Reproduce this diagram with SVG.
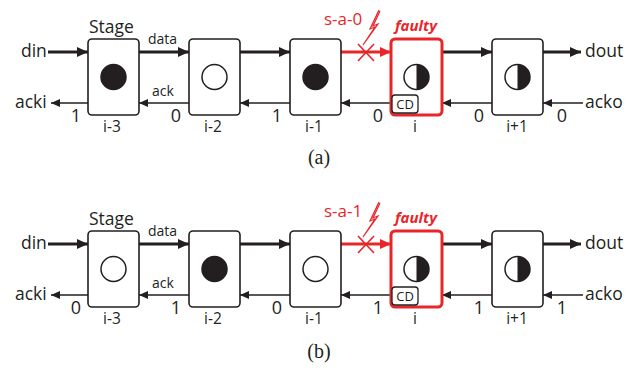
<svg xmlns="http://www.w3.org/2000/svg" width="638" height="368" viewBox="0 0 638 368">
<style>
.box{fill:#fff;stroke:#231f20;stroke-width:1.6}
.fbox{fill:#fff;stroke:#e8262a;stroke-width:3}
.t{font-family:"Open Sans","Liberation Sans",sans-serif;fill:#231f20}
.lbl{font-size:17.5px}
.sm{font-size:14px}
.num{font-size:18px;text-anchor:middle}
.idx{font-size:15.5px;text-anchor:middle}
.red{fill:#e8262a}
.data{stroke:#231f20;stroke-width:3;fill:none}
.ack{stroke:#231f20;stroke-width:1.4;fill:none}
.rdata{stroke:#e8262a;stroke-width:3;fill:none}
.full{fill:#231f20;stroke:#231f20;stroke-width:1.5}
.empty{fill:#fff;stroke:#231f20;stroke-width:1.5}
.cap{font-family:"Liberation Serif","Times New Roman",serif;font-size:20px;fill:#231f20;text-anchor:middle}
</style>
<defs>
<marker id="ah" markerUnits="userSpaceOnUse" markerWidth="12" markerHeight="12" refX="11" refY="6" orient="auto"><path d="M0,1 L11,6 L0,11 Z" fill="#231f20"/></marker>
<marker id="ahs" markerUnits="userSpaceOnUse" markerWidth="10" markerHeight="10" refX="9" refY="5" orient="auto"><path d="M0,1 L9,5 L0,9 Z" fill="#231f20"/></marker>
<marker id="ahr" markerUnits="userSpaceOnUse" markerWidth="12" markerHeight="12" refX="11" refY="6" orient="auto"><path d="M0,1 L11,6 L0,11 Z" fill="#e8262a"/></marker>
<g id="half"><path d="M0,-12.5 A12.5,12.5 0 0 1 0,12.5 Z" fill="#231f20"/><circle r="12.5" fill="none" stroke="#231f20" stroke-width="1.5"/></g>
</defs>

<!-- Panel (a) -->
<g id="panel-a">
<g id="connectors-a">
<line class="data" x1="48" y1="52" x2="88" y2="52" marker-end="url(#ah)"/>
<line class="data" x1="139" y1="52" x2="189" y2="52" marker-end="url(#ah)"/>
<line class="data" x1="240" y1="52" x2="290" y2="52" marker-end="url(#ah)"/>
<line class="rdata" x1="341" y1="52" x2="391" y2="52" marker-end="url(#ahr)"/>
<line class="data" x1="442" y1="52" x2="492" y2="52" marker-end="url(#ah)"/>
<line class="data" x1="543" y1="52" x2="581" y2="52" marker-end="url(#ah)"/>
<line class="ack" x1="88" y1="103" x2="51" y2="103" marker-end="url(#ahs)"/>
<line class="ack" x1="189" y1="103" x2="139" y2="103" marker-end="url(#ahs)"/>
<line class="ack" x1="290" y1="103" x2="240" y2="103" marker-end="url(#ahs)"/>
<line class="ack" x1="391" y1="103" x2="341" y2="103" marker-end="url(#ahs)"/>
<line class="ack" x1="492" y1="103" x2="442" y2="103" marker-end="url(#ahs)"/>
<line class="ack" x1="583" y1="103" x2="543" y2="103" marker-end="url(#ahs)"/>
<path d="M358,44 L374,61 M358,61 L374,44" stroke="#e8262a" stroke-width="1.6" fill="none"/>
<path d="M379,10 L370,29 L375,27 L363,45 L378,24 L373,26 L380,11" fill="#fff" stroke="#e8262a" stroke-width="1.2"/>
</g>
<text class="t lbl" x="21" y="57">din</text>
<text class="t lbl" x="15" y="108">acki</text>
<text class="t lbl" x="585" y="57">dout</text>
<text class="t lbl" x="585" y="108">acko</text>
<text class="t lbl" x="89" y="33" font-size="18">Stage</text>
<text class="t sm" x="148" y="44">data</text>
<text class="t sm" x="152" y="96">ack</text>
<text class="t red" x="324" y="25" font-size="17">s-a-0</text>
<text class="t red" x="395" y="31" font-size="15" font-weight="bold" font-style="italic">faulty</text>
<g id="a-s1"><rect class="box" x="88" y="39" width="51" height="76" rx="4"/><circle class="full" cx="113.5" cy="77" r="12.5"/><text class="t idx" x="112" y="132">i-3</text></g>
<g id="a-s2"><rect class="box" x="189" y="39" width="51" height="76" rx="4"/><circle class="empty" cx="214.5" cy="77" r="12.5"/><text class="t idx" x="213" y="132">i-2</text></g>
<g id="a-s3"><rect class="box" x="290" y="39" width="51" height="76" rx="4"/><circle class="full" cx="315.5" cy="77" r="12.5"/><text class="t idx" x="314" y="132">i-1</text></g>
<g id="a-s4"><rect class="fbox" x="391" y="39" width="51" height="76" rx="4"/><use href="#half" x="416.5" y="77"/><rect x="392" y="95" width="26" height="18" rx="3" fill="#fff" stroke="#231f20" stroke-width="1.3"/><text class="t" x="405" y="109" font-size="13" text-anchor="middle">CD</text><text class="t idx" x="415" y="132">i</text></g>
<g id="a-s5"><rect class="box" x="492" y="39" width="51" height="76" rx="4"/><use href="#half" x="517.5" y="77"/><text class="t idx" x="517" y="132">i+1</text></g>
<text class="t num" x="76" y="122">1</text>
<text class="t num" x="176" y="122">0</text>
<text class="t num" x="277" y="122">1</text>
<text class="t num" x="378" y="122">0</text>
<text class="t num" x="479" y="122">0</text>
<text class="t num" x="562" y="122">0</text>
<text class="cap" x="319" y="164">(a)</text>
</g>

<!-- Panel (b) -->
<g id="panel-b" transform="translate(0,192)">
<g id="connectors-b">
<line class="data" x1="48" y1="52" x2="88" y2="52" marker-end="url(#ah)"/>
<line class="data" x1="139" y1="52" x2="189" y2="52" marker-end="url(#ah)"/>
<line class="data" x1="240" y1="52" x2="290" y2="52" marker-end="url(#ah)"/>
<line class="rdata" x1="341" y1="52" x2="391" y2="52" marker-end="url(#ahr)"/>
<line class="data" x1="442" y1="52" x2="492" y2="52" marker-end="url(#ah)"/>
<line class="data" x1="543" y1="52" x2="581" y2="52" marker-end="url(#ah)"/>
<line class="ack" x1="88" y1="103" x2="51" y2="103" marker-end="url(#ahs)"/>
<line class="ack" x1="189" y1="103" x2="139" y2="103" marker-end="url(#ahs)"/>
<line class="ack" x1="290" y1="103" x2="240" y2="103" marker-end="url(#ahs)"/>
<line class="ack" x1="391" y1="103" x2="341" y2="103" marker-end="url(#ahs)"/>
<line class="ack" x1="492" y1="103" x2="442" y2="103" marker-end="url(#ahs)"/>
<line class="ack" x1="583" y1="103" x2="543" y2="103" marker-end="url(#ahs)"/>
<path d="M358,44 L374,61 M358,61 L374,44" stroke="#e8262a" stroke-width="1.6" fill="none"/>
<path d="M379,10 L370,29 L375,27 L363,45 L378,24 L373,26 L380,11" fill="#fff" stroke="#e8262a" stroke-width="1.2"/>
</g>
<text class="t lbl" x="21" y="57">din</text>
<text class="t lbl" x="15" y="108">acki</text>
<text class="t lbl" x="585" y="57">dout</text>
<text class="t lbl" x="585" y="108">acko</text>
<text class="t lbl" x="89" y="33" font-size="18">Stage</text>
<text class="t sm" x="148" y="44">data</text>
<text class="t sm" x="152" y="96">ack</text>
<text class="t red" x="324" y="25" font-size="17">s-a-1</text>
<text class="t red" x="395" y="31" font-size="15" font-weight="bold" font-style="italic">faulty</text>
<g id="b-s1"><rect class="box" x="88" y="39" width="51" height="76" rx="4"/><circle class="empty" cx="113.5" cy="77" r="12.5"/><text class="t idx" x="112" y="132">i-3</text></g>
<g id="b-s2"><rect class="box" x="189" y="39" width="51" height="76" rx="4"/><circle class="full" cx="214.5" cy="77" r="12.5"/><text class="t idx" x="213" y="132">i-2</text></g>
<g id="b-s3"><rect class="box" x="290" y="39" width="51" height="76" rx="4"/><circle class="empty" cx="315.5" cy="77" r="12.5"/><text class="t idx" x="314" y="132">i-1</text></g>
<g id="b-s4"><rect class="fbox" x="391" y="39" width="51" height="76" rx="4"/><use href="#half" x="416.5" y="77"/><rect x="392" y="95" width="26" height="18" rx="3" fill="#fff" stroke="#231f20" stroke-width="1.3"/><text class="t" x="405" y="109" font-size="13" text-anchor="middle">CD</text><text class="t idx" x="415" y="132">i</text></g>
<g id="b-s5"><rect class="box" x="492" y="39" width="51" height="76" rx="4"/><use href="#half" x="517.5" y="77"/><text class="t idx" x="517" y="132">i+1</text></g>
<text class="t num" x="76" y="122">0</text>
<text class="t num" x="176" y="122">1</text>
<text class="t num" x="277" y="122">0</text>
<text class="t num" x="378" y="122">1</text>
<text class="t num" x="479" y="122">1</text>
<text class="t num" x="562" y="122">1</text>
<text class="cap" x="319" y="166">(b)</text>
</g>
</svg>
